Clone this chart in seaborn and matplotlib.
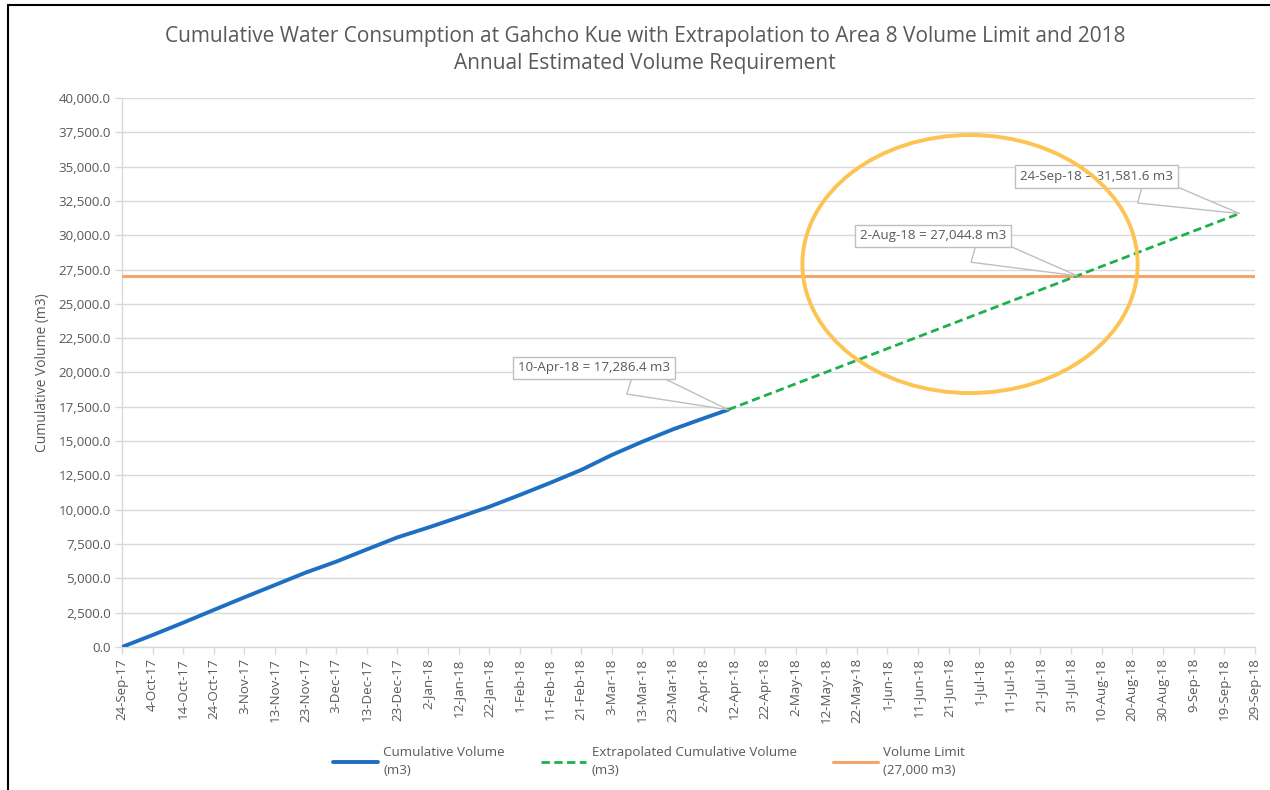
import pandas as pd
import matplotlib
matplotlib.use("Agg")
import matplotlib.pyplot as plt
import matplotlib.dates as mdates
from matplotlib.patches import Ellipse
from matplotlib.ticker import FuncFormatter, MultipleLocator
import seaborn as sns

# DATA
actual_dates = [
    "2017-09-24", "2017-10-04", "2017-10-14", "2017-10-24", "2017-11-03",
    "2017-11-13", "2017-11-23", "2017-12-03", "2017-12-13", "2017-12-23",
    "2018-01-02", "2018-01-12", "2018-01-22", "2018-02-01", "2018-02-11",
    "2018-02-21", "2018-03-03", "2018-03-13", "2018-03-23", "2018-04-02",
    "2018-04-10",
]
actual_volume = [
    0, 870, 1770, 2700, 3620,
    4520, 5420, 6220, 7110, 7990,
    8700, 9450, 10220, 11080, 11970,
    12900, 13990, 14960, 15860, 16660,
    17286.4,
]
extrap_dates = ["2018-04-10", "2018-08-02", "2018-09-24"]
extrap_volume = [17286.4, 27044.8, 31581.6]
limit_dates = ["2017-09-24", "2018-09-29"]
limit_volume = [27000, 27000]

callout_labels = [
    "10-Apr-18 = 17,286.4 m3",
    "2-Aug-18 = 27,044.8 m3",
    "24-Sep-18 = 31,581.6 m3",
]
callout_dates = ["2018-04-10", "2018-08-02", "2018-09-24"]
callout_values = [17286.4, 27044.8, 31581.6]

series_labels = [
    "Cumulative Volume\n(m3)",
    "Extrapolated Cumulative Volume\n(m3)",
    "Volume Limit\n(27,000 m3)",
]

title = ("Cumulative Water Consumption at Gahcho Kue with Extrapolation to Area 8 Volume Limit and 2018\n"
         "Annual Estimated Volume Requirement")

# STYLE
sns.set_theme(style="white")
plt.rcParams["font.family"] = ["Open Sans", "DejaVu Sans"]
text_col = "#595959"
grid_col = "#D9D9D9"
fs = 9.6

actual_df = pd.DataFrame({"date": pd.to_datetime(actual_dates), "volume": actual_volume})
extrap_df = pd.DataFrame({"date": pd.to_datetime(extrap_dates), "volume": extrap_volume})
limit_df = pd.DataFrame({"date": pd.to_datetime(limit_dates), "volume": limit_volume})

fig = plt.figure(figsize=(12.7, 7.9), dpi=100)
ax = fig.add_axes([0.096, 0.181, 0.892, 0.695])

sns.lineplot(data=limit_df, x="date", y="volume", color="#F4A46C", lw=2.2,
             label=series_labels[2], ax=ax, zorder=3)
sns.lineplot(data=actual_df, x="date", y="volume", color="#1F6FC1", lw=2.8,
             label=series_labels[0], ax=ax, zorder=4)
sns.lineplot(data=extrap_df, x="date", y="volume", color="#1DB04B", lw=2.0,
             ls=(0, (3, 1.6)), label=series_labels[1], ax=ax, zorder=4)

# Limits and ticks
ax.set_xlim(pd.Timestamp("2017-09-24"), pd.Timestamp("2018-09-29"))
ax.set_ylim(0, 40000)
ax.yaxis.set_major_locator(MultipleLocator(2500))
ax.yaxis.set_major_formatter(FuncFormatter(lambda v, p: f"{v:,.1f}"))
tick_dates = pd.date_range("2017-09-24", "2018-09-29", freq="10D")
ax.set_xticks(tick_dates)
ax.set_xticklabels([f"{d.day}-{d.strftime('%b-%y')}" for d in tick_dates],
                   rotation=90)
ax.tick_params(axis="both", colors=grid_col, labelcolor=text_col, labelsize=fs,
               length=5, width=1, direction="out", bottom=True, left=True, pad=3)

ax.grid(axis="y", color=grid_col, lw=1)
ax.set_axisbelow(True)
for side in ["top", "right"]:
    ax.spines[side].set_visible(False)
for side in ["left", "bottom"]:
    ax.spines[side].set_color(grid_col)
    ax.spines[side].set_linewidth(1)

# Labels
ax.set_xlabel("")
ax.set_ylabel("Cumulative Volume (m3)", color=text_col, fontsize=10, labelpad=6)
fig.text(0.508, 0.967, title, ha="center", va="top", color=text_col,
         fontsize=15, linespacing=1.35)

# Callouts
offsets = [(-134, 42), (-144, 40), (-143, 37)]
for lab, d, v, off in zip(callout_labels, callout_dates, callout_values, offsets):
    ax.annotate(lab, xy=(pd.Timestamp(d), v), xytext=off, textcoords="offset pixels",
                ha="center", va="center", fontsize=fs, color=text_col,
                bbox=dict(boxstyle="square,pad=0.35", fc="white", ec="#BFBFBF", lw=1),
                arrowprops=dict(arrowstyle="wedge,tail_width=2.3", fc="white",
                                ec="#BFBFBF", lw=1, shrinkA=0, shrinkB=0),
                zorder=6)

# Highlight ellipse
ell_center = mdates.date2num(pd.Timestamp("2018-06-28"))
ax.add_patch(Ellipse((ell_center, 27900), width=109.5, height=18800, fill=False,
                     ec="#FDC454", lw=2.8, zorder=7))

# Legend
ax.get_legend().remove()
handles, labels = ax.get_legend_handles_labels()
order = [1, 2, 0]
leg = fig.legend([handles[i] for i in order], [labels[i] for i in order],
                 loc="center", bbox_to_anchor=(0.511, 0.036), ncol=3, frameon=False,
                 fontsize=fs, labelcolor=text_col, handlelength=3.4,
                 handletextpad=0.4, columnspacing=2.7)
for t in leg.get_texts():
    t.set_linespacing(1.5)

# Outer frame
fig.add_artist(plt.Line2D([0.006, 0.006], [0, 0.994], color="black", lw=1.5,
                          transform=fig.transFigure))
fig.add_artist(plt.Line2D([0.006, 1], [0.994, 0.994], color="black", lw=1.5,
                          transform=fig.transFigure))

fig.savefig("out.png", dpi=100)
